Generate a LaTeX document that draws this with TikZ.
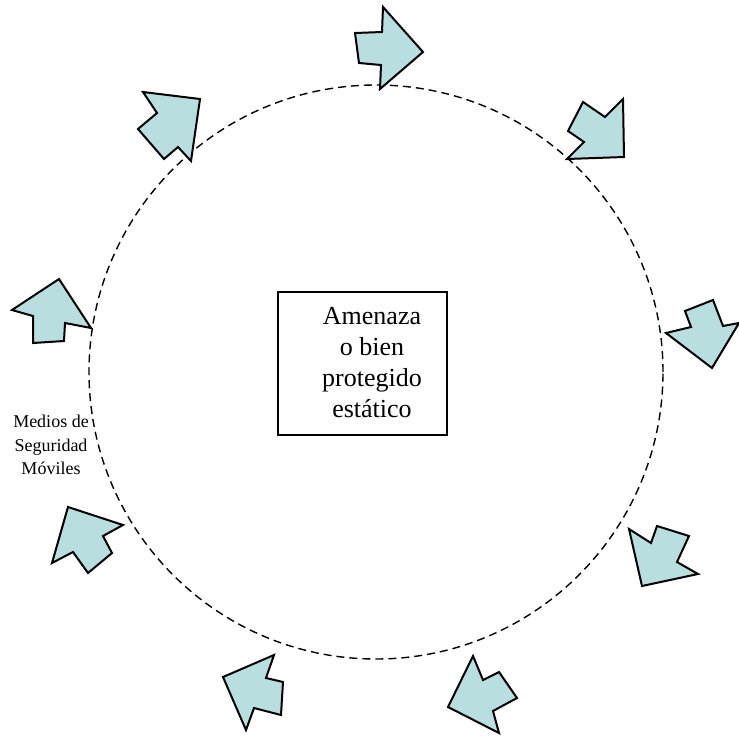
\documentclass[tikz,border=0pt]{standalone}
\usepackage{fontspec}
\setmainfont{Liberation Serif}
\definecolor{arrowfill}{RGB}{184,222,224}
\tikzset{
  blockarrow/.style={draw=black, line width=2pt, fill=arrowfill, line join=miter},
  ring/.style={circle, draw=black, line width=1.4pt, dash pattern=on 8pt off 5pt, inner sep=0pt},
  centerbox/.style={draw=black, line width=1.3pt, minimum width=169pt, minimum height=143pt},
  boxtext/.style={align=center, inner sep=0pt, font=\fontsize{26}{31}\selectfont},
  sidelabel/.style={align=center, font=\fontsize{18}{23.5}\selectfont, inner sep=0pt}
}
\begin{document}
\begin{tikzpicture}[x=1pt,y=-1pt]
\useasboundingbox (0,0) rectangle (739,737);
\node[ring, minimum size=574pt] (ring) at (376,372) {};
\node[centerbox] (box) at (362.5,363.5) {};
\node[boxtext] (boxlabel) at (372,363) {Amenaza\\o bien\\protegido\\estático};
\node[sidelabel] (label) at (51,445) {Medios de\\Seguridad\\Móviles};
% arrows
\draw[blockarrow] (355,33) -- (382,32) -- (383,7) -- (423,52) -- (380,89) -- (381,65) -- (359,63) -- cycle;
\draw[blockarrow] (583,102) -- (605,117) -- (623,99) -- (624,157) -- (567,159) -- (584,142) -- (568,131) -- cycle;
\draw[blockarrow] (143,92) -- (200,99) -- (191,161) -- (178,147) -- (164,159) -- (138,129) -- (157,113) -- cycle;
\draw[blockarrow] (12,310) -- (59,279) -- (91,328) -- (65,323) -- (64,341) -- (33,343) -- (33,316) -- cycle;
\draw[blockarrow] (666,333) -- (691,327) -- (685,311) -- (713,300) -- (723,326) -- (739,323) -- (712,368) -- cycle;
\draw[blockarrow] (68,507) -- (123,525) -- (103,536) -- (112,553) -- (88,573) -- (73,552) -- (52,563) -- cycle;
\draw[blockarrow] (629,529) -- (651,543) -- (657,526) -- (689,536) -- (677,562) -- (698,574) -- (642,586) -- cycle;
\draw[blockarrow] (223,677) -- (274,655) -- (266,678) -- (283,682) -- (281,715) -- (254,708) -- (246,730) -- cycle;
\draw[blockarrow] (473,656) -- (483,680) -- (499,672) -- (517,698) -- (493,711) -- (499,733) -- (448,707) -- cycle;
\end{tikzpicture}
\end{document}
